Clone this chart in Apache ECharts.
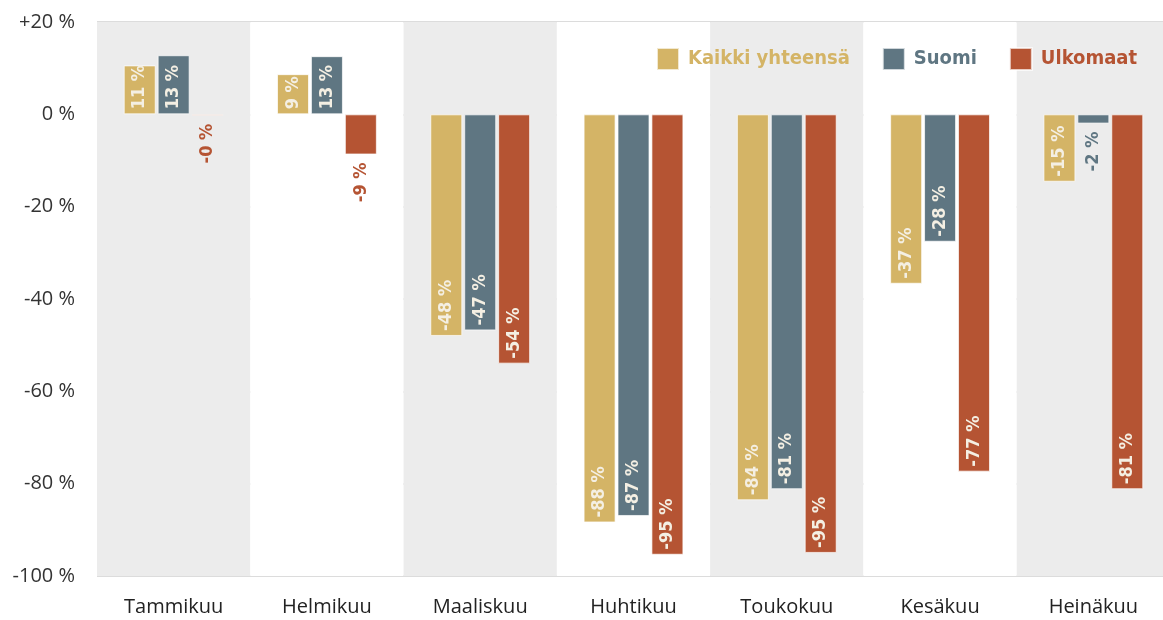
<!DOCTYPE html>
<html>
<head>
<meta charset="utf-8">
<script src="https://cdn.jsdelivr.net/npm/echarts@6/dist/echarts.min.js"></script>
<style>
  html, body { margin: 0; padding: 0; background: #fff; overflow: hidden; }
  /* kuva on rajattu oikealta: viimeinen kaista jatkuu reunan yli */
  #chart { width: 1170px; height: 620px; }
</style>
</head>
<body>
<div id="chart"></div>
<script>
// Kuukaudet
const months = ['Tammikuu', 'Helmikuu', 'Maaliskuu', 'Huhtikuu', 'Toukokuu', 'Kesäkuu', 'Heinäkuu']

// Muutos edellisvuodesta, %
const kaikki = [10.6, 8.7, -48, -88.4, -83.6, -36.7, -14.6]
const suomi = [12.8, 12.6, -46.8, -87, -81.2, -27.6, -2]
const ulkomaat = [-0.3, -8.7, -54, -95.4, -95, -77.4, -81.2]

// Y-akselin jaotus
const yTicks = [20, 0, -20, -40, -60, -80, -100]

const colors = ['#d4b466', '#5f7682', '#b55433']
const labelFont = '"Liberation Sans Narrow", "DejaVu Sans Condensed", sans-serif'

const fmt = v => {
  const r = Math.round(v)
  return (v < 0 ? '-' + Math.abs(r) : String(r)) + ' %'
}

// pienet negatiiviset arvot: nimike palkin alapuolelle
const makeData = (values, color) =>
  values.map(v => {
    if (v >= 0 || v <= -10) return v
    return {
      value: v,
      label: {
        position: 'bottom',
        distance: 8,
        align: 'right',
        color: color
      }
    }
  })

const makeSeries = (name, values, color) => ({
  name,
  type: 'bar',
  barWidth: 32,
  barGap: '6%',
  data: makeData(values, color),
  itemStyle: { color, borderColor: 'rgba(255,255,255,0.7)', borderWidth: 1 },
  label: {
    show: true,
    position: 'insideBottom',
    rotate: 90,
    align: 'left',
    verticalAlign: 'middle',
    distance: 5,
    color: '#f4efe3',
    fontFamily: labelFont,
    fontWeight: 'bold',
    fontSize: 18,
    formatter: p => fmt(p.value)
  }
})

const chart = echarts.init(document.getElementById('chart'))

chart.setOption({
  animation: false,
  grid: { left: 97, right: 0, top: 22, bottom: 44 },
  legend: {
    left: 651,
    top: 42,
    itemWidth: 22,
    itemHeight: 22,
    itemGap: 32,
    icon: 'rect',
    data: [
      { name: 'Kaikki yhteensä', textStyle: { color: colors[0] } },
      { name: 'Suomi', textStyle: { color: colors[1] } },
      { name: 'Ulkomaat', textStyle: { color: colors[2] } }
    ],
    textStyle: {
      fontFamily: labelFont,
      fontWeight: 'bold',
      fontSize: 20,
      padding: [0, 0, 0, 4]
    }
  },
  xAxis: {
    type: 'category',
    data: months,
    axisLine: { show: false },
    axisTick: { show: false },
    axisLabel: {
      margin: 21,
      color: '#222',
      fontFamily: '"Open Sans", sans-serif',
      fontSize: 20
    },
    splitArea: {
      show: true,
      areaStyle: { color: ['#ececec', '#ffffff'] }
    }
  },
  yAxis: {
    type: 'value',
    min: -100,
    max: 20,
    interval: 20,
    axisLine: { show: false },
    axisTick: { show: false },
    axisLabel: {
      margin: 22,
      color: '#333',
      fontFamily: '"Open Sans", sans-serif',
      fontSize: 20,
      formatter: v => (yTicks.includes(v) && v > 0 ? '+' : '') + v + ' %'
    },
    splitLine: { lineStyle: { color: '#dcdcdc', width: 2 } }
  },
  series: [
    makeSeries('Kaikki yhteensä', kaikki, colors[0]),
    makeSeries('Suomi', suomi, colors[1]),
    makeSeries('Ulkomaat', ulkomaat, colors[2])
  ]
})
</script>
</body>
</html>
